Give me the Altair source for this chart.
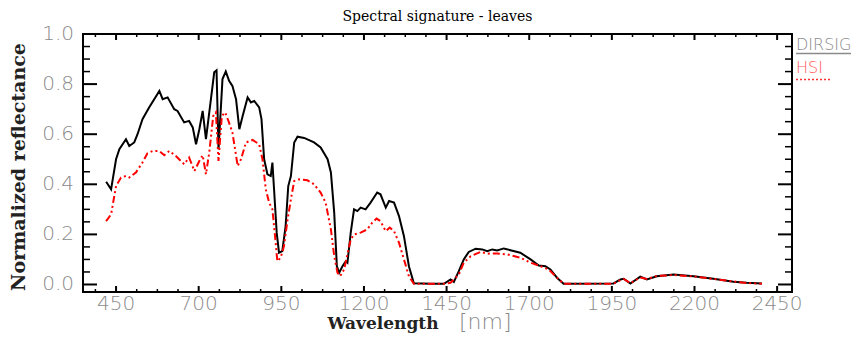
import altair as alt
import pandas as pd

# ---- data ----
dirsig_wl = [420, 435, 450, 460, 480, 490, 505, 515, 530, 550, 581, 591, 606, 626, 636, 656, 671, 682,
             692, 702, 712, 722, 737, 747, 754, 760, 772, 782, 792, 802, 813, 823, 833, 848, 858, 868,
             883, 890, 898, 908, 918, 923, 928, 936, 943, 953, 963, 971, 979, 989, 999, 1019, 1049,
             1069, 1090, 1100, 1110, 1118, 1125, 1135, 1145, 1150, 1160, 1170, 1180, 1190, 1205, 1220,
             1240, 1250, 1266, 1276, 1291, 1306, 1321, 1336, 1351, 1402, 1442, 1462, 1472, 1487, 1502,
             1517, 1538, 1558, 1573, 1588, 1603, 1623, 1643, 1673, 1704, 1729, 1749, 1764, 1784, 1804,
             1955, 1976, 1986, 2006, 2036, 2056, 2086, 2137, 2197, 2257, 2318, 2358, 2404]
dirsig_val = [0.41, 0.38, 0.50, 0.54, 0.58, 0.553, 0.567, 0.60, 0.66, 0.707, 0.773, 0.74, 0.747, 0.70,
              0.693, 0.647, 0.653, 0.627, 0.56, 0.62, 0.693, 0.58, 0.74, 0.847, 0.855, 0.54, 0.82, 0.85,
              0.813, 0.793, 0.74, 0.62, 0.673, 0.747, 0.727, 0.733, 0.707, 0.66, 0.50, 0.44, 0.433,
              0.487, 0.38, 0.207, 0.127, 0.133, 0.233, 0.393, 0.433, 0.567, 0.59, 0.585, 0.567, 0.547,
              0.50, 0.447, 0.287, 0.073, 0.047, 0.073, 0.093, 0.087, 0.207, 0.30, 0.293, 0.307, 0.30,
              0.327, 0.367, 0.36, 0.307, 0.333, 0.327, 0.273, 0.193, 0.073, 0.005, 0.003, 0.003, 0.02,
              0.01, 0.053, 0.10, 0.13, 0.143, 0.14, 0.133, 0.14, 0.136, 0.144, 0.137, 0.127, 0.10,
              0.076, 0.073, 0.06, 0.027, 0.003, 0.004, 0.02, 0.023, 0.004, 0.031, 0.02, 0.033, 0.04,
              0.033, 0.023, 0.011, 0.007, 0.004]

hsi_wl = [420, 435, 450, 465, 480, 490, 510, 530, 545, 561, 581, 596, 611, 631, 656, 671, 687, 702,
          712, 722, 732, 744, 752, 760, 770, 780, 790, 802, 818, 828, 843, 863, 883, 893, 903, 913,
          923, 930, 938, 948, 958, 969, 979, 989, 1004, 1029, 1049, 1069, 1084, 1100, 1110, 1120,
          1128, 1140, 1160, 1170, 1190, 1210, 1225, 1238, 1250, 1266, 1278, 1291, 1306, 1321, 1336,
          1351, 1442, 1462, 1487, 1502, 1523, 1553, 1573, 1603, 1633, 1673, 1704, 1734, 1759, 1784,
          1804, 1955, 1976, 1986, 2006, 2036, 2056, 2086, 2137, 2197, 2257, 2318, 2358, 2404]
hsi_val = [0.253, 0.28, 0.393, 0.427, 0.433, 0.427, 0.447, 0.487, 0.524, 0.533, 0.533, 0.516, 0.533,
           0.513, 0.48, 0.507, 0.453, 0.493, 0.516, 0.44, 0.527, 0.673, 0.687, 0.493, 0.673, 0.687,
           0.653, 0.607, 0.473, 0.50, 0.567, 0.577, 0.56, 0.50, 0.38, 0.327, 0.30, 0.207, 0.093,
           0.107, 0.153, 0.26, 0.34, 0.413, 0.42, 0.416, 0.40, 0.367, 0.327, 0.22, 0.113, 0.047,
           0.033, 0.06, 0.18, 0.20, 0.207, 0.22, 0.247, 0.263, 0.253, 0.213, 0.227, 0.213, 0.167,
           0.10, 0.033, 0.003, 0.003, 0.007, 0.04, 0.087, 0.113, 0.13, 0.123, 0.124, 0.12, 0.107,
           0.087, 0.073, 0.06, 0.027, 0.003, 0.003, 0.018, 0.022, 0.005, 0.028, 0.022, 0.034, 0.038,
           0.032, 0.022, 0.012, 0.006, 0.003]

x_major = [450, 700, 950, 1200, 1450, 1700, 1950, 2200, 2450]
y_major = [0.0, 0.2, 0.4, 0.6, 0.8, 1.0]
x_minor = [387.5 + 62.5 * k for k in range(34) if (387.5 + 62.5 * k - 450) % 250 != 0]
y_minor = [round(0.05 * k, 2) for k in range(21) if k % 4 != 0]

W, H = 709, 258
GRAY = "#8a8a8a"
LABEL_FONT = "DejaVu Sans"
SERIF = "DejaVu Serif"

xs = alt.Scale(domain=[350, 2495], nice=False, zero=False)
ys = alt.Scale(domain=[-0.03, 1.0], nice=False, zero=False)

dirsig = pd.DataFrame({"wl": dirsig_wl, "val": dirsig_val})
hsi = pd.DataFrame({"wl": hsi_wl, "val": hsi_val})

black = alt.Chart(dirsig).mark_line(color="black", strokeWidth=2).encode(
    x=alt.X("wl:Q", scale=xs, axis=None), y=alt.Y("val:Q", scale=ys, axis=None))
red = alt.Chart(hsi).mark_line(color="#ff0000", strokeWidth=2, strokeDash=[7, 3, 2, 3, 2, 3]).encode(
    x=alt.X("wl:Q", scale=xs, axis=None), y=alt.Y("val:Q", scale=ys, axis=None))


def xticks(vals, length, top, sw):
    df = pd.DataFrame({"t": vals})
    if top:
        yy, yy2 = alt.value(0), alt.value(length)
    else:
        yy, yy2 = alt.value(H), alt.value(H - length)
    return alt.Chart(df).mark_rule(color="black", strokeWidth=sw).encode(
        x=alt.X("t:Q", scale=xs, axis=None), y=yy, y2=yy2)


def yticks(vals, length, right, sw):
    df = pd.DataFrame({"t": vals})
    if right:
        xx, xx2 = alt.value(W), alt.value(W - length)
    else:
        xx, xx2 = alt.value(0), alt.value(length)
    return alt.Chart(df).mark_rule(color="black", strokeWidth=sw).encode(
        y=alt.Y("t:Q", scale=ys, axis=None), x=xx, x2=xx2)


ticks = [
    xticks(x_major, 6, False, 2), xticks(x_minor, 3, False, 1.5),
    xticks(x_major, 6, True, 2), xticks(x_minor, 3, True, 1.5),
    yticks(y_major, 14, False, 2), yticks(y_minor, 7, False, 1.5),
    yticks(y_major, 14, True, 2), yticks(y_minor, 7, True, 1.5),
]

# tick labels, placed through the scales
x_labels = alt.Chart(pd.DataFrame({"t": x_major})).mark_text(
    font=LABEL_FONT, fontSize=20, fontWeight=200, color=GRAY, align="center", baseline="alphabetic"
).encode(x=alt.X("t:Q", scale=xs, axis=None), y=alt.value(H + 18), text=alt.Text("t:Q", format="d"))
y_labels = alt.Chart(pd.DataFrame({"t": y_major})).mark_text(
    font=LABEL_FONT, fontSize=20, fontWeight=200, color=GRAY, align="right", baseline="middle"
).encode(y=alt.Y("t:Q", scale=ys, axis=None), x=alt.value(-9), text=alt.Text("t:Q", format=".1f"))

one = pd.DataFrame({"k": [0]})


def label(text, x, y, **kw):
    return alt.Chart(one).mark_text(text=text, **kw).encode(x=alt.value(x), y=alt.value(y))


texts = [
    label("Spectral signature - leaves", W / 2, -13, font=SERIF, fontSize=14, color="black",
          align="center", baseline="alphabetic"),
    label("Wavelength", 300, 295, font=SERIF, fontSize=17, fontWeight="bold", color="#222222",
          align="center", baseline="alphabetic"),
    label("[nm]", 376, 295, font=LABEL_FONT, fontSize=22, fontWeight=200, color=GRAY,
          align="left", baseline="alphabetic"),
    label("Normalized reflectance", -64, 133, font=SERIF, fontSize=19, fontWeight="bold",
          color="#222222", align="center", baseline="middle", angle=270),
    label("DIRSIG", 713, 16, font=LABEL_FONT, fontSize=16, fontWeight=200, color=GRAY,
          align="left", baseline="alphabetic"),
    label("HSI", 713, 39, font=LABEL_FONT, fontSize=16, fontWeight=200, color="#ff5a5a",
          align="left", baseline="alphabetic"),
    alt.Chart(one).mark_rule(color=GRAY, strokeWidth=1.5).encode(
        x=alt.value(713), x2=alt.value(768), y=alt.value(19.5)),
    alt.Chart(one).mark_rule(color="#ff3030", strokeWidth=1.5, strokeDash=[2, 2]).encode(
        x=alt.value(713), x2=alt.value(748), y=alt.value(45.5)),
]

chart = alt.layer(black, red, *ticks, x_labels, y_labels, *texts).properties(
    width=W, height=H,
    autosize=alt.AutoSizeParams(type="none"),
    padding={"left": 75, "top": 26, "right": 60, "bottom": 41},
).configure_view(stroke="black", strokeWidth=2)

chart.save("out.html", embed_options={"renderer": "svg", "actions": False})
